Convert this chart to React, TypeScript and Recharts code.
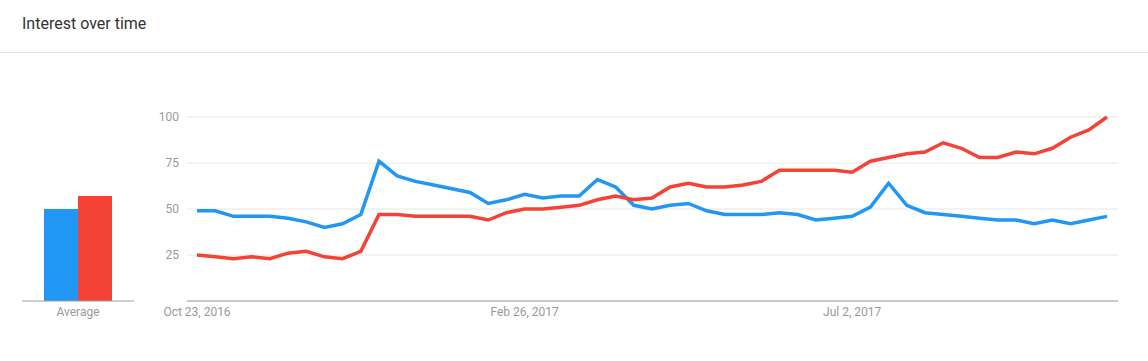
import React from 'react';
import { LineChart, Line, BarChart, Bar, XAxis, YAxis, CartesianGrid } from 'recharts';

const weeks = [
  'Oct 23, 2016', 'Oct 30, 2016', 'Nov 6, 2016', 'Nov 13, 2016', 'Nov 20, 2016', 'Nov 27, 2016',
  'Dec 4, 2016', 'Dec 11, 2016', 'Dec 18, 2016', 'Dec 25, 2016', 'Jan 1, 2017', 'Jan 8, 2017',
  'Jan 15, 2017', 'Jan 22, 2017', 'Jan 29, 2017', 'Feb 5, 2017', 'Feb 12, 2017', 'Feb 19, 2017',
  'Feb 26, 2017', 'Mar 5, 2017', 'Mar 12, 2017', 'Mar 19, 2017', 'Mar 26, 2017', 'Apr 2, 2017',
  'Apr 9, 2017', 'Apr 16, 2017', 'Apr 23, 2017', 'Apr 30, 2017', 'May 7, 2017', 'May 14, 2017',
  'May 21, 2017', 'May 28, 2017', 'Jun 4, 2017', 'Jun 11, 2017', 'Jun 18, 2017', 'Jun 25, 2017',
  'Jul 2, 2017', 'Jul 9, 2017', 'Jul 16, 2017', 'Jul 23, 2017', 'Jul 30, 2017', 'Aug 6, 2017',
  'Aug 13, 2017', 'Aug 20, 2017', 'Aug 27, 2017', 'Sep 3, 2017', 'Sep 10, 2017', 'Sep 17, 2017',
  'Sep 24, 2017', 'Oct 1, 2017', 'Oct 8, 2017',
];

const blueSeries = [
  49, 49, 46, 46, 46, 45, 43, 40, 42, 47, 76, 68, 65, 63, 61, 59, 53, 55, 58, 56,
  57, 57, 66, 62, 52, 50, 52, 53, 49, 47, 47, 47, 48, 47, 44, 45, 46, 51, 64, 52,
  48, 47, 46, 45, 44, 44, 42, 44, 42, 44, 46,
];

const redSeries = [
  25, 24, 23, 24, 23, 26, 27, 24, 23, 27, 47, 47, 46, 46, 46, 46, 44, 48, 50, 50,
  51, 52, 55, 57, 55, 56, 62, 64, 62, 62, 63, 65, 71, 71, 71, 71, 70, 76, 78, 80,
  81, 86, 83, 78, 78, 81, 80, 83, 89, 93, 100,
];

const xTicks = ['Oct 23, 2016', 'Feb 26, 2017', 'Jul 2, 2017'];
const yTicks = [0, 25, 50, 75, 100];

const avgLabels = ['Average'];
const avgBlue = [50];
const avgRed = [57];

const BLUE = '#2196F3';
const RED = '#F44336';
const FONT = 'Roboto, sans-serif';

const lineData = weeks.map((w, i) => ({ week: w, blue: blueSeries[i], red: redSeries[i] }));
const avgData = avgLabels.map((l, i) => ({ name: l, blue: avgBlue[i], red: avgRed[i] }));

export default function App() {
  return (
    <div style={{ position: 'absolute', left: 0, top: 0, width: 1148, height: 361, background: '#fff', fontFamily: FONT }}>
      <div style={{ position: 'absolute', left: 22, top: 14, fontSize: 16, color: '#333' }}>Interest over time</div>
      <div style={{ position: 'absolute', left: 0, top: 52, width: 1148, height: 1, background: '#e4e4e4' }} />

      <div style={{ position: 'absolute', left: 0, top: 0 }}>
        <BarChart width={160} height={361} data={avgData} margin={{ top: 117, right: 26, left: 22, bottom: 30 }} barGap={0}>
          <YAxis hide domain={[0, 100]} />
          <XAxis
            dataKey="name"
            axisLine={{ stroke: '#9e9e9e' }}
            tickLine={false}
            tickSize={4}
            tick={{ fill: '#999', fontSize: 12, fontFamily: FONT }}
            height={30}
          />
          <Bar dataKey="blue" fill={BLUE} barSize={34} isAnimationActive={false} />
          <Bar dataKey="red" fill={RED} barSize={34} isAnimationActive={false} />
        </BarChart>
      </div>

      <div style={{ position: 'absolute', left: 0, top: 0 }}>
        <LineChart width={1148} height={361} data={lineData} margin={{ top: 117, right: 30, left: 147, bottom: 30 }}>
          <CartesianGrid vertical={false} stroke="#e6e6e6" />
          <XAxis
            dataKey="week"
            ticks={xTicks}
            interval={0}
            padding={{ left: 10, right: 11 }}
            axisLine={{ stroke: '#9e9e9e' }}
            tickLine={false}
            tickSize={4}
            height={30}
            tick={{ fill: '#999', fontSize: 12, fontFamily: FONT }}
          />
          <YAxis
            domain={[0, 100]}
            ticks={yTicks}
            width={40}
            axisLine={false}
            tickLine={false}
            tickFormatter={(v: number) => (v === 0 ? '' : String(v))}
            tick={{ fill: '#999', fontSize: 12, fontFamily: FONT }}
          />
          <Line type="linear" dataKey="blue" stroke={BLUE} strokeWidth={3.5} dot={false} isAnimationActive={false} />
          <Line type="linear" dataKey="red" stroke={RED} strokeWidth={3.5} dot={false} isAnimationActive={false} />
        </LineChart>
      </div>
    </div>
  );
}
